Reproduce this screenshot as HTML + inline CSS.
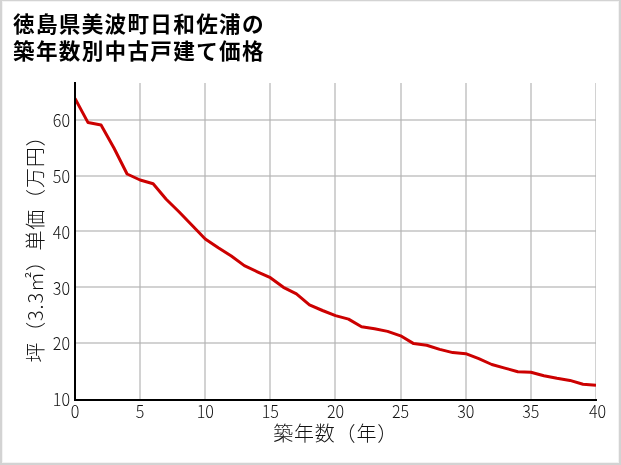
<!DOCTYPE html>
<html lang="ja"><head><meta charset="utf-8">
<style>
html,body{margin:0;padding:0;background:#fff;}
body{width:621px;height:465px;position:relative;overflow:hidden;}
.frame{position:absolute;left:0;top:0;width:621px;height:465px;box-sizing:border-box;border-style:solid;border-color:#d3d3d3;border-width:1px 2px 2px 2px;box-shadow:inset 0 0 0 1px #f3f3f3;}
h1{position:absolute;left:13px;top:10.5px;margin:0;font:bold 21.6px/27.3px "Liberation Sans","Noto Sans CJK JP",sans-serif;color:#000;letter-spacing:1.3px;white-space:nowrap;}
svg{position:absolute;left:0;top:0;}
.tick{font-family:"Noto Sans CJK JP",sans-serif;font-weight:300;font-size:17.3px;fill:#111;}
.lab{font-family:"Noto Sans CJK JP",sans-serif;font-weight:300;font-size:20px;fill:#111;letter-spacing:0.8px;}
</style></head><body>
<div class="frame"></div>
<h1>徳島県美波町日和佐浦の<br>築年数別中古戸建て価格</h1>
<svg width="621" height="465" viewBox="0 0 621 465">
<defs><clipPath id="c"><rect x="74" y="80" width="522" height="322"/></clipPath></defs>
<g stroke="rgb(180,180,180)" stroke-opacity="0.6" stroke-width="2" clip-path="url(#c)"><line x1="140" y1="83" x2="140" y2="400"/><line x1="205" y1="83" x2="205" y2="400"/><line x1="270" y1="83" x2="270" y2="400"/><line x1="335" y1="83" x2="335" y2="400"/><line x1="401" y1="83" x2="401" y2="400"/><line x1="466" y1="83" x2="466" y2="400"/><line x1="531" y1="83" x2="531" y2="400"/><line x1="596" y1="83" x2="596" y2="400"/><line x1="75" y1="120" x2="596" y2="120"/><line x1="75" y1="176" x2="596" y2="176"/><line x1="75" y1="231" x2="596" y2="231"/><line x1="75" y1="287" x2="596" y2="287"/><line x1="75" y1="343" x2="596" y2="343"/></g>
<polyline points="75.00,98.50 88.03,122.60 101.05,125.00 114.08,148.30 127.10,174.00 140.12,180.00 153.15,183.70 166.18,199.20 179.20,212.00 192.23,225.50 205.25,239.00 218.28,247.80 231.30,256.00 244.33,265.60 257.35,271.80 270.38,277.70 283.40,287.30 296.43,293.90 309.45,304.90 322.48,310.50 335.50,315.60 348.53,319.10 361.55,326.80 374.57,328.80 387.60,331.40 400.62,335.80 413.65,343.60 426.68,345.20 439.70,349.40 452.73,352.60 465.75,353.70 478.78,358.70 491.80,364.50 504.82,368.10 517.85,371.70 530.88,372.20 543.90,375.80 556.92,378.30 569.95,380.40 582.98,384.20 596.00,385.20" fill="none" stroke="#cc0000" stroke-width="3" stroke-linejoin="round" stroke-linecap="butt" clip-path="url(#c)"/>
<path d="M75 82 V401 M74 400 H597" stroke="#000" stroke-width="2" fill="none"/>
<g class="tick"><text x="70" y="127.2" text-anchor="end" textLength="17.2" lengthAdjust="spacingAndGlyphs">60</text><text x="70" y="183" text-anchor="end" textLength="17.2" lengthAdjust="spacingAndGlyphs">50</text><text x="70" y="239.2" text-anchor="end" textLength="17.2" lengthAdjust="spacingAndGlyphs">40</text><text x="70" y="295.3" text-anchor="end" textLength="17.2" lengthAdjust="spacingAndGlyphs">30</text><text x="70" y="350.2" text-anchor="end" textLength="17.2" lengthAdjust="spacingAndGlyphs">20</text><text x="70" y="406.4" text-anchor="end" textLength="17.2" lengthAdjust="spacingAndGlyphs">10</text><text x="75.00" y="418" text-anchor="middle" textLength="8.6" lengthAdjust="spacingAndGlyphs">0</text><text x="140.12" y="418" text-anchor="middle" textLength="8.6" lengthAdjust="spacingAndGlyphs">5</text><text x="205.25" y="418" text-anchor="middle" textLength="17.2" lengthAdjust="spacingAndGlyphs">10</text><text x="270.38" y="418" text-anchor="middle" textLength="17.2" lengthAdjust="spacingAndGlyphs">15</text><text x="335.50" y="418" text-anchor="middle" textLength="17.2" lengthAdjust="spacingAndGlyphs">20</text><text x="400.62" y="418" text-anchor="middle" textLength="17.2" lengthAdjust="spacingAndGlyphs">25</text><text x="465.75" y="418" text-anchor="middle" textLength="17.2" lengthAdjust="spacingAndGlyphs">30</text><text x="530.88" y="418" text-anchor="middle" textLength="17.2" lengthAdjust="spacingAndGlyphs">35</text><text x="597.50" y="418" text-anchor="middle" textLength="17.2" lengthAdjust="spacingAndGlyphs">40</text></g>
<text class="lab" x="273.2" y="441.4">築年数（年）</text>
<text class="lab" transform="translate(43.3,362.5) rotate(-90)">坪（3.3㎡）単価（万円）</text>
</svg>
</body></html>
